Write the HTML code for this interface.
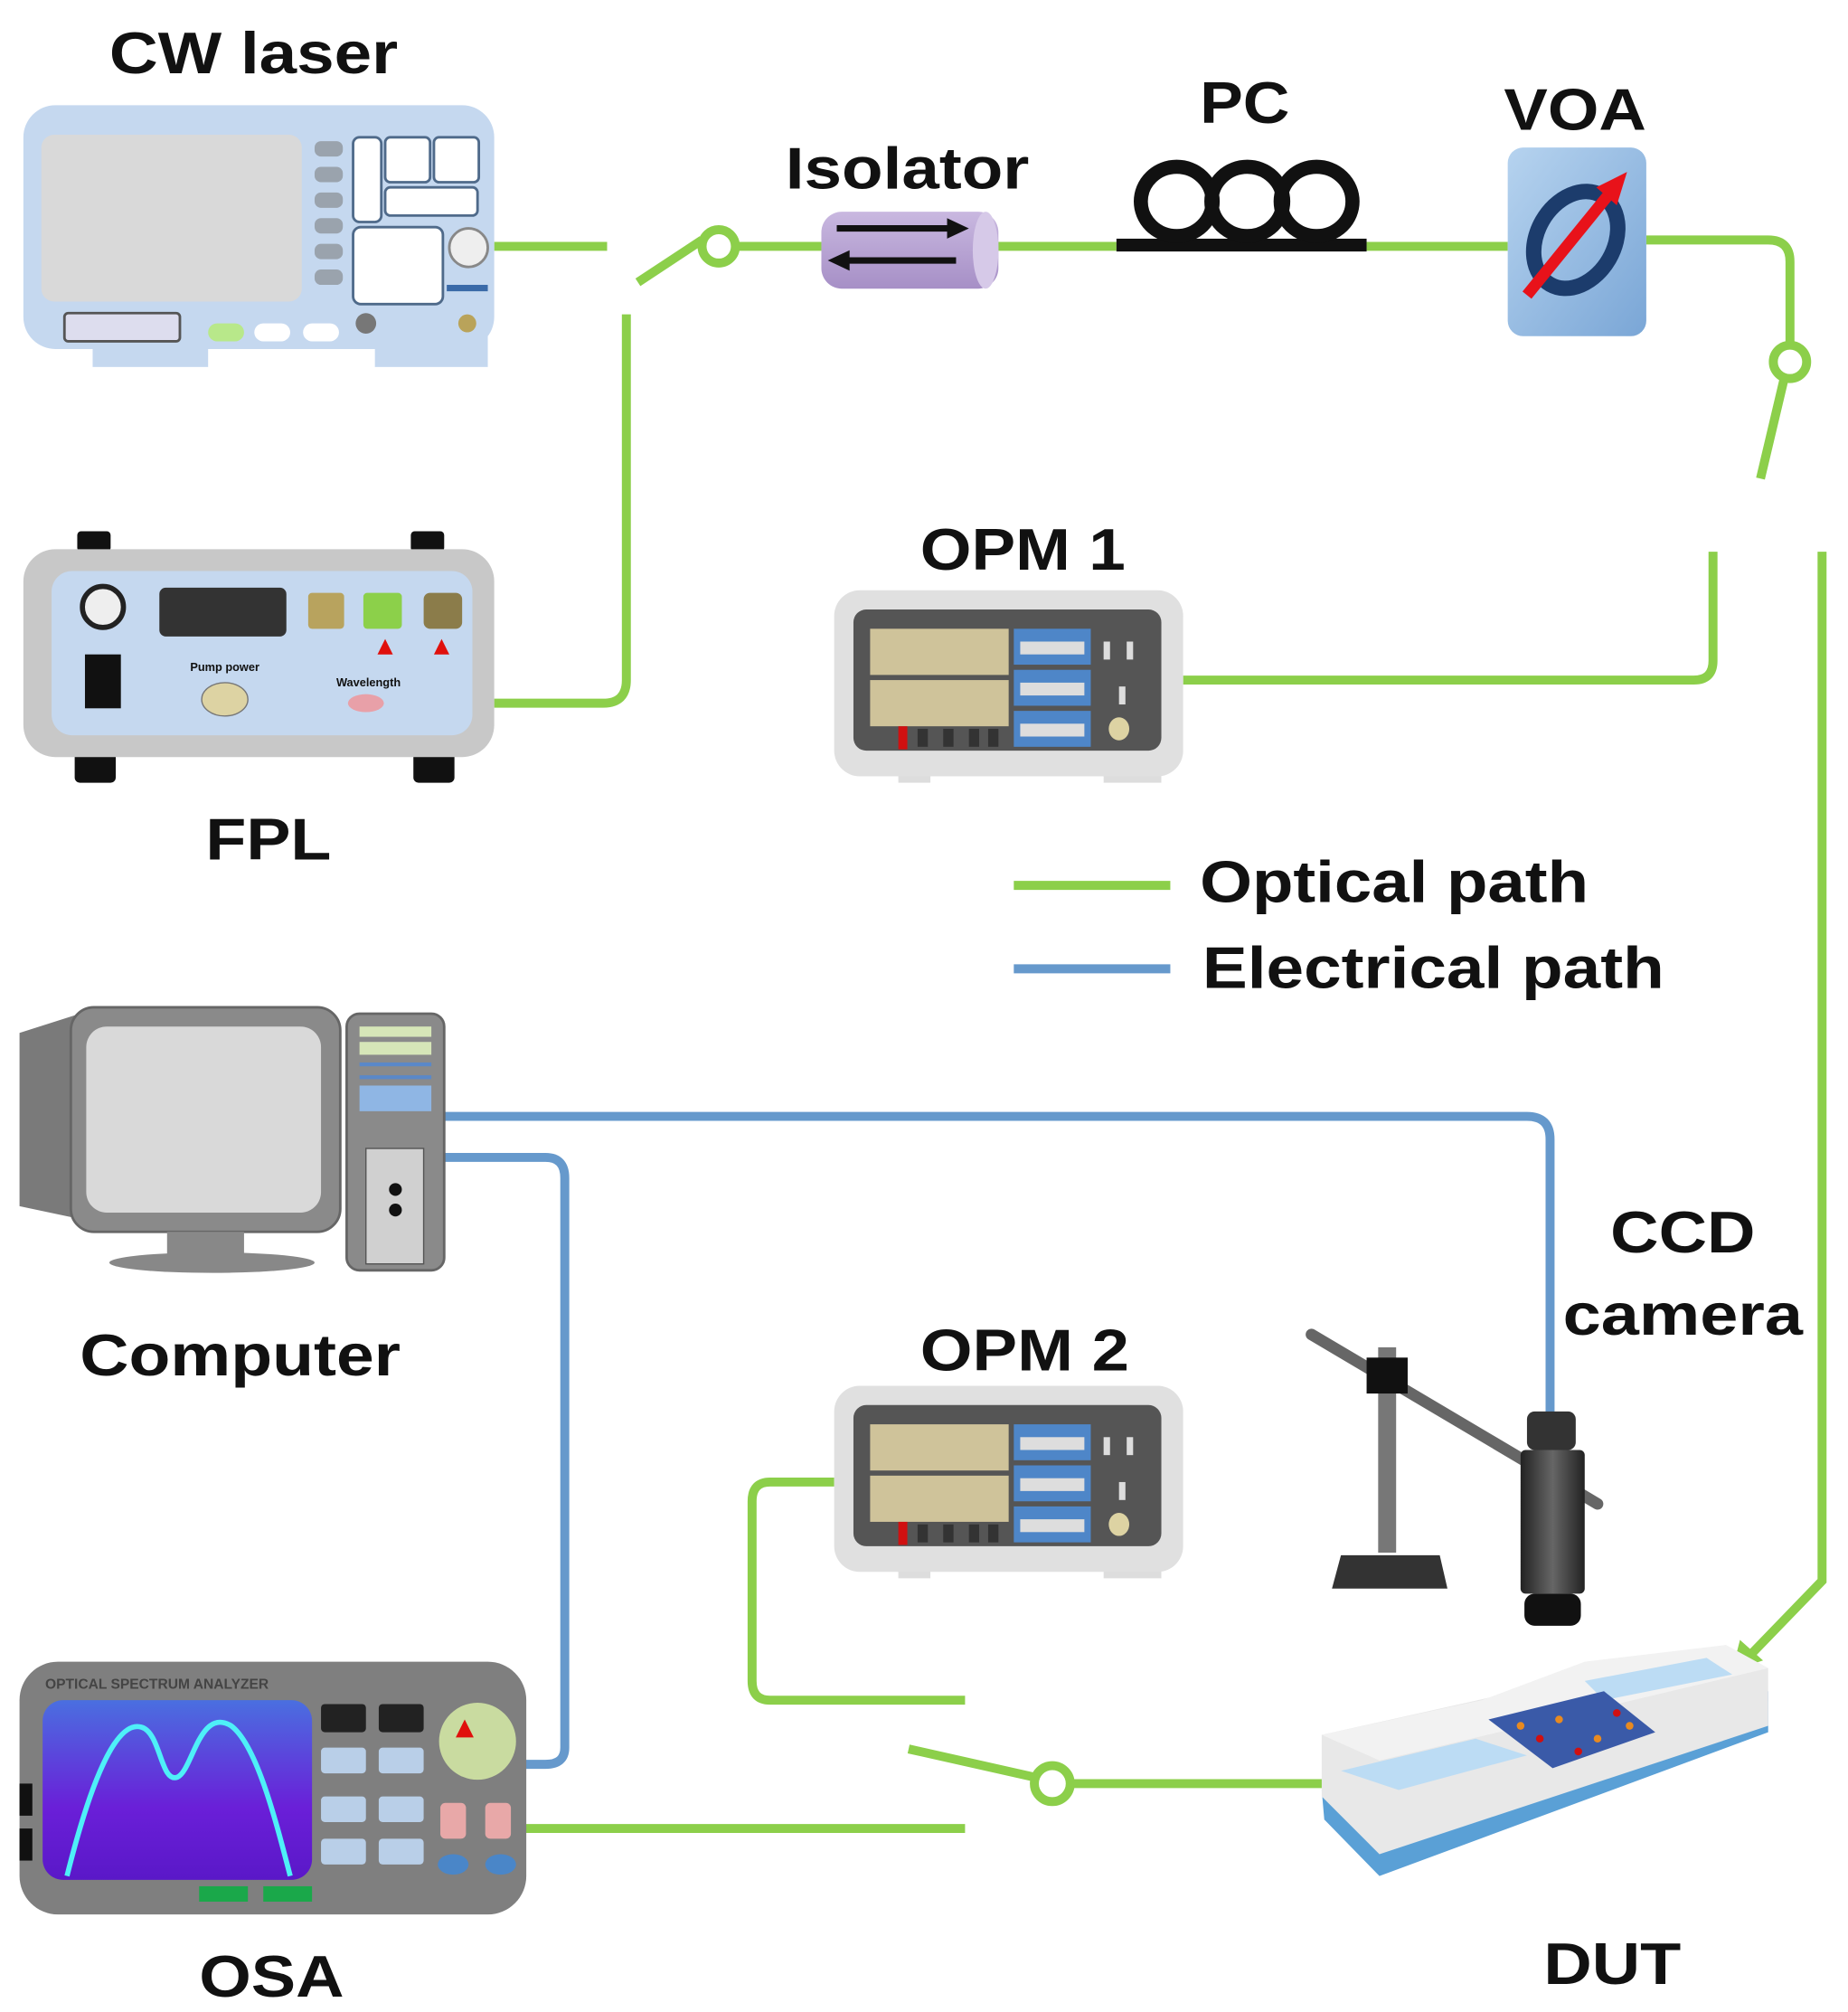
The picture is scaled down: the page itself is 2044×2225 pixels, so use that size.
<!DOCTYPE html>
<html><head><meta charset="utf-8"><style>
html,body{margin:0;padding:0;background:#fff}
svg{display:block}
text{font-family:"Liberation Sans",Arial,sans-serif;font-weight:bold;fill:#111}
</style></head><body>
<svg width="2044" height="2225" viewBox="0 0 1440 1568" xmlns="http://www.w3.org/2000/svg">
<defs>
<linearGradient id="osa" x1="0" y1="0" x2="0" y2="1"><stop offset="0" stop-color="#4a6fe0"/><stop offset="0.6" stop-color="#6a1fd8"/><stop offset="1" stop-color="#5a18c8"/></linearGradient>
<linearGradient id="iso" x1="0" y1="0" x2="0" y2="1"><stop offset="0" stop-color="#c9b8e0"/><stop offset="1" stop-color="#a68fc6"/></linearGradient>
<linearGradient id="voa" x1="0" y1="0" x2="1" y2="1"><stop offset="0" stop-color="#b6d3ef"/><stop offset="1" stop-color="#7aa6d6"/></linearGradient>
<linearGradient id="cam" x1="0" y1="0" x2="1" y2="0"><stop offset="0" stop-color="#222"/><stop offset="0.5" stop-color="#666"/><stop offset="1" stop-color="#222"/></linearGradient>
</defs>

<!-- optical lines -->
<g fill="none" stroke="#8ccf4a" stroke-width="7" stroke-linecap="butt">
<path d="M385 192 H473"/>
<path d="M497 220 L547 187"/>
<path d="M573 192 H640"/>
<path d="M778 192 H870"/>
<path d="M1065 192 H1175"/>
<path d="M1283 187 H1378 Q1395 187 1395 204 V268"/>
<path d="M1390 297 L1372 373"/>
<path d="M1335 430 V515 Q1335 530 1320 530 H922"/>
<path d="M1420 430 V1232 L1362 1292"/>
<path d="M488 245 V530 Q488 548 470 548 H385"/>
<path d="M650 1155 H600 Q586 1155 586 1170 V1310 Q586 1325 600 1325 H752"/>
<path d="M408 1425 H752"/>
<path d="M708 1363 L806 1385"/>
<path d="M834 1390 H1050"/>
<path d="M790 690 H912"/>
</g>
<polygon points="1350,1302 1356,1278 1374,1294" fill="#8ccf4a"/>
<circle cx="560" cy="192" r="13" fill="#fff" stroke="#8ccf4a" stroke-width="7"/>
<circle cx="1395" cy="282" r="13" fill="#fff" stroke="#8ccf4a" stroke-width="7"/>
<circle cx="820" cy="1390" r="14" fill="#fff" stroke="#8ccf4a" stroke-width="7"/>

<!-- electrical lines -->
<g fill="none" stroke="#6699cc" stroke-width="7">
<path d="M345 870 H1190 Q1208 870 1208 888 V1105"/>
<path d="M345 902 H425 Q440 902 440 918 V1362 Q440 1375 425 1375 H408"/>
<path d="M790 755 H912"/>
</g>

<!-- labels -->
<g font-size="46" lengthAdjust="spacingAndGlyphs">
<text x="85" y="57" textLength="225" lengthAdjust="spacingAndGlyphs">CW laser</text>
<text x="612" y="147" textLength="190" lengthAdjust="spacingAndGlyphs">Isolator</text>
<text x="935" y="96" textLength="70" lengthAdjust="spacingAndGlyphs">PC</text>
<text x="1172" y="101" textLength="111" lengthAdjust="spacingAndGlyphs">VOA</text>
<text x="717" y="444" textLength="160" lengthAdjust="spacingAndGlyphs">OPM 1</text>
<text x="160" y="670" textLength="98" lengthAdjust="spacingAndGlyphs">FPL</text>
<text x="935" y="703" textLength="303" lengthAdjust="spacingAndGlyphs">Optical path</text>
<text x="937" y="770" textLength="360" lengthAdjust="spacingAndGlyphs">Electrical path</text>
<text x="62" y="1072" textLength="250" lengthAdjust="spacingAndGlyphs">Computer</text>
<text x="717" y="1068" textLength="163" lengthAdjust="spacingAndGlyphs">OPM 2</text>
<text x="1255" y="976" textLength="113" lengthAdjust="spacingAndGlyphs">CCD</text>
<text x="1218" y="1040" textLength="187" lengthAdjust="spacingAndGlyphs">camera</text>
<text x="155" y="1556" textLength="113" lengthAdjust="spacingAndGlyphs">OSA</text>
<text x="1203" y="1546" textLength="107" lengthAdjust="spacingAndGlyphs">DUT</text>
</g>

<!-- CW laser -->
<rect x="72" y="262" width="90" height="24" fill="#c5d8ef"/>
<rect x="292" y="262" width="88" height="24" fill="#c5d8ef"/>
<rect x="18" y="82" width="367" height="190" rx="25" fill="#c5d8ef"/>
<rect x="32" y="105" width="203" height="130" rx="10" fill="#d9d9d9"/>
<g fill="#9aa3ad"><rect x="245" y="110" width="22" height="12" rx="5"/><rect x="245" y="130" width="22" height="12" rx="5"/><rect x="245" y="150" width="22" height="12" rx="5"/><rect x="245" y="170" width="22" height="12" rx="5"/><rect x="245" y="190" width="22" height="12" rx="5"/><rect x="245" y="210" width="22" height="12" rx="5"/></g>
<g fill="#fff" stroke="#4f6a8a" stroke-width="2">
<rect x="275" y="107" width="22" height="66" rx="5"/><rect x="300" y="107" width="35" height="35" rx="4"/><rect x="338" y="107" width="35" height="35" rx="4"/><rect x="300" y="146" width="72" height="22" rx="4"/><rect x="275" y="177" width="70" height="60" rx="6"/></g>
<circle cx="365" cy="193" r="15" fill="#eee" stroke="#888" stroke-width="2"/>
<rect x="348" y="222" width="32" height="5" fill="#3a6aa8"/>
<rect x="50" y="244" width="90" height="22" rx="3" fill="#dde" stroke="#555" stroke-width="2"/>
<rect x="162" y="252" width="28" height="14" rx="7" fill="#b8e88a"/>
<rect x="198" y="252" width="28" height="14" rx="7" fill="#fff"/>
<rect x="236" y="252" width="28" height="14" rx="7" fill="#fff"/>
<circle cx="285" cy="252" r="8" fill="#777"/><circle cx="364" cy="252" r="7" fill="#b9a35a"/>

<!-- Isolator -->
<rect x="640" y="165" width="138" height="60" rx="16" fill="url(#iso)"/>
<ellipse cx="768" cy="195" rx="10" ry="30" fill="#d6c9e8"/>
<path d="M652 178 H745 M652 203 H745" stroke="#111" stroke-width="5"/>
<polygon points="755,178 738,170 738,186" fill="#111"/><polygon points="645,203 662,195 662,211" fill="#111"/>

<!-- PC -->
<rect x="870" y="186" width="195" height="10" fill="#111"/>
<g fill="none" stroke="#111" stroke-width="11"><ellipse cx="917" cy="157" rx="28" ry="27"/><ellipse cx="972" cy="157" rx="28" ry="27"/><ellipse cx="1026" cy="157" rx="28" ry="27"/></g>

<!-- VOA -->
<rect x="1175" y="115" width="108" height="147" rx="12" fill="url(#voa)"/>
<ellipse cx="1228" cy="187" rx="30" ry="40" fill="none" stroke="#1c3c6c" stroke-width="12" transform="rotate(30 1228 187)"/>
<path d="M1190 230 L1255 150" stroke="#e8121a" stroke-width="9"/>
<polygon points="1268,134 1244,146 1260,160" fill="#e8121a"/>

<!-- FPL -->
<rect x="60" y="414" width="26" height="16" rx="3" fill="#111"/><rect x="320" y="414" width="26" height="16" rx="3" fill="#111"/>
<rect x="58" y="586" width="32" height="24" rx="4" fill="#111"/><rect x="322" y="586" width="32" height="24" rx="4" fill="#111"/>
<rect x="18" y="428" width="367" height="162" rx="25" fill="#c8c8c8"/>
<rect x="40" y="445" width="328" height="128" rx="16" fill="#c5d8ef"/>
<circle cx="80" cy="473" r="16" fill="#eee" stroke="#222" stroke-width="4"/>
<rect x="66" y="510" width="28" height="42" fill="#111"/>
<rect x="124" y="458" width="99" height="38" rx="5" fill="#333"/>
<rect x="240" y="462" width="28" height="28" rx="3" fill="#b8a35e"/>
<rect x="283" y="462" width="30" height="28" rx="3" fill="#8cd04a"/>
<rect x="330" y="462" width="30" height="28" rx="5" fill="#8b7c4a"/>
<polygon points="300,498 294,510 306,510" fill="#e0100c"/><polygon points="344,498 338,510 350,510" fill="#e0100c"/>
<ellipse cx="175" cy="545" rx="18" ry="13" fill="#ddd3a3" stroke="#777"/>
<ellipse cx="285" cy="548" rx="14" ry="7" fill="#e8a0a8"/>
<text x="175" y="523" font-size="9" font-weight="normal" text-anchor="middle">Pump power</text>
<text x="287" y="535" font-size="9" font-weight="normal" text-anchor="middle">Wavelength</text>

<!-- OPM 1 & 2 -->
<g id="opm">
<rect x="700" y="598" width="25" height="12" fill="#ddd"/><rect x="860" y="598" width="45" height="12" fill="#ddd"/>
<rect x="650" y="460" width="272" height="145" rx="20" fill="#e0e0e0"/>
<rect x="665" y="475" width="240" height="110" rx="10" fill="#555"/>
<rect x="678" y="490" width="108" height="36" fill="#cfc39a"/>
<rect x="678" y="530" width="108" height="36" fill="#cfc39a"/>
<g fill="#4e86c8"><rect x="790" y="490" width="60" height="28"/><rect x="790" y="522" width="60" height="28"/><rect x="790" y="554" width="60" height="28"/></g>
<g fill="#ddd"><rect x="795" y="500" width="50" height="10"/><rect x="795" y="532" width="50" height="10"/><rect x="795" y="564" width="50" height="10"/></g>
<rect x="700" y="566" width="7" height="18" fill="#d01010"/>
<g fill="#333"><rect x="715" y="568" width="8" height="14"/><rect x="735" y="568" width="8" height="14"/><rect x="755" y="568" width="8" height="14"/><rect x="770" y="568" width="8" height="14"/></g>
<ellipse cx="872" cy="568" rx="8" ry="9" fill="#ddd3a3"/>
<g fill="#ddd"><rect x="860" y="500" width="5" height="14"/><rect x="878" y="500" width="5" height="14"/><rect x="872" y="535" width="5" height="14"/></g>
</g>
<use href="#opm" transform="translate(0 620)"/>

<!-- Computer -->
<polygon points="15,805 62,790 62,950 15,940" fill="#7a7a7a"/>
<rect x="55" y="785" width="210" height="175" rx="18" fill="#8a8a8a" stroke="#666" stroke-width="2"/>
<rect x="67" y="800" width="183" height="145" rx="16" fill="#d9d9d9"/>
<rect x="130" y="960" width="60" height="18" fill="#888"/>
<ellipse cx="165" cy="984" rx="80" ry="8" fill="#888"/>
<rect x="270" y="790" width="76" height="200" rx="10" fill="#8a8a8a" stroke="#666" stroke-width="2"/>
<rect x="280" y="800" width="56" height="8" fill="#d6e6b8"/><rect x="280" y="812" width="56" height="10" fill="#d6e6b8"/>
<rect x="280" y="828" width="56" height="3" fill="#5a88c8"/><rect x="280" y="838" width="56" height="3" fill="#5a88c8"/>
<rect x="280" y="846" width="56" height="20" fill="#8fb6e4"/>
<rect x="285" y="895" width="45" height="90" fill="#d0d0d0" stroke="#555"/>
<circle cx="308" cy="927" r="5" fill="#111"/><circle cx="308" cy="943" r="5" fill="#111"/>

<!-- OSA -->
<rect x="15" y="1295" width="395" height="197" rx="30" fill="#7f7f7f"/>
<text x="35" y="1316" font-size="11" style="fill:#444">OPTICAL SPECTRUM ANALYZER</text>
<rect x="33" y="1325" width="210" height="140" rx="16" fill="url(#osa)"/>
<path d="M52 1462 C70 1390 90 1340 110 1346 C125 1350 125 1390 138 1385 C150 1380 155 1330 180 1345 C200 1360 215 1420 226 1462" fill="none" stroke="#4ef0f8" stroke-width="4"/>
<rect x="250" y="1328" width="35" height="22" rx="3" fill="#222"/><rect x="295" y="1328" width="35" height="22" rx="3" fill="#222"/>
<g fill="#b9cfe8"><rect x="250" y="1362" width="35" height="20" rx="3"/><rect x="295" y="1362" width="35" height="20" rx="3"/><rect x="250" y="1400" width="35" height="20" rx="3"/><rect x="295" y="1400" width="35" height="20" rx="3"/><rect x="250" y="1433" width="35" height="20" rx="3"/><rect x="295" y="1433" width="35" height="20" rx="3"/></g>
<circle cx="372" cy="1357" r="30" fill="#c9dba0"/>
<polygon points="362,1340 355,1354 369,1354" fill="#e0100c"/>
<rect x="343" y="1405" width="20" height="28" rx="4" fill="#e8a8a8"/><rect x="378" y="1405" width="20" height="28" rx="4" fill="#e8a8a8"/>
<ellipse cx="353" cy="1453" rx="12" ry="8" fill="#4a86c8"/><ellipse cx="390" cy="1453" rx="12" ry="8" fill="#4a86c8"/>
<rect x="155" y="1470" width="38" height="12" fill="#1aa84a"/><rect x="205" y="1470" width="38" height="12" fill="#1aa84a"/>
<rect x="15" y="1390" width="10" height="25" fill="#111"/><rect x="15" y="1425" width="10" height="25" fill="#111"/>

<!-- CCD stand -->
<path d="M1022 1040 L1245 1172" stroke="#666" stroke-width="9" stroke-linecap="round"/>
<rect x="1074" y="1050" width="14" height="160" fill="#777"/>
<polygon points="1045,1212 1122,1212 1128,1238 1038,1238" fill="#333"/>
<rect x="1065" y="1058" width="32" height="28" fill="#111"/>
<rect x="1190" y="1100" width="38" height="30" rx="6" fill="#333"/>
<rect x="1185" y="1130" width="50" height="112" rx="4" fill="url(#cam)"/>
<rect x="1188" y="1242" width="44" height="25" rx="8" fill="#111"/>

<!-- DUT -->
<polygon points="1030,1395 1378,1318 1378,1350 1075,1462 1032,1418" fill="#5aa0d6"/>
<polygon points="1030,1352 1345,1282 1378,1300 1378,1345 1075,1445 1030,1400" fill="#e8e8e8"/>
<polygon points="1030,1352 1155,1325 1235,1295 1345,1282 1378,1300 1075,1372" fill="#f2f2f2"/>
<polygon points="1045,1380 1150,1355 1190,1368 1090,1395" fill="#bcdcf4"/>
<polygon points="1235,1310 1330,1292 1350,1305 1250,1325" fill="#bcdcf4"/>
<polygon points="1160,1340 1250,1318 1290,1350 1210,1378" fill="#3a5aa8"/>
<g fill="#e88a20"><circle cx="1185" cy="1345" r="3"/><circle cx="1215" cy="1340" r="3"/><circle cx="1245" cy="1355" r="3"/><circle cx="1270" cy="1345" r="3"/></g>
<g fill="#d01010"><circle cx="1200" cy="1355" r="3"/><circle cx="1230" cy="1365" r="3"/><circle cx="1260" cy="1335" r="3"/></g>
</svg>
</body></html>
